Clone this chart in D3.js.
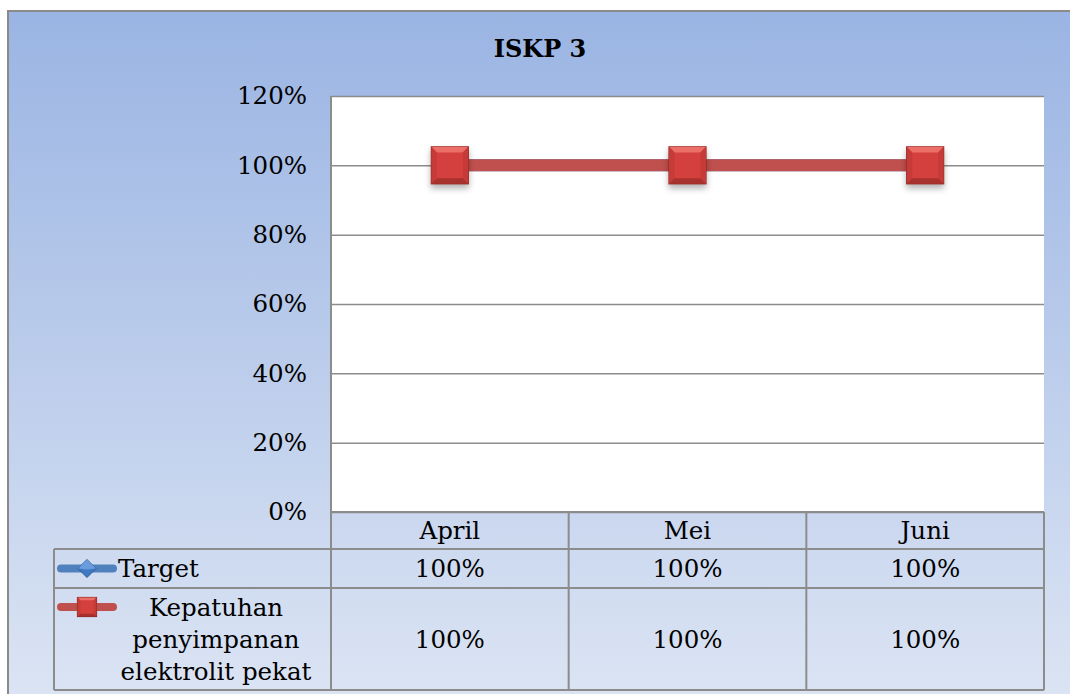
<!DOCTYPE html>
<html>
<head>
<meta charset="utf-8">
<script src="https://cdn.jsdelivr.net/npm/d3@7"></script>
<style>
  html, body { margin: 0; padding: 0; background: #ffffff; }
  svg { display: block; }
  text { font-family: "DejaVu Serif", "Liberation Serif", serif; fill: #000; }
</style>
</head>
<body>
<div id="chart"></div>
<script>
// Chart data
const months = ["April", "Mei", "Juni"];
const targetValues = [1, 1, 1];
const complianceValues = [1, 1, 1];
const yTicks = [0, 0.2, 0.4, 0.6, 0.8, 1.0, 1.2];
const seriesNames = ["Target", "Kepatuhan penyimpanan elektrolit pekat"];
const seriesLabelLines = [["Target"], ["Kepatuhan", "penyimpanan", "elektrolit pekat"]];

const width = 1070, height = 694;
const plot = { left: 331, right: 1044, top: 96, bottom: 512 };
const table = { left: 54, rows: [512, 549, 588, 690] };
const gridColor = "#8c8c8c";
const fontSize = "24.5px";

const svg = d3.select("#chart").append("svg")
  .attr("width", width)
  .attr("height", height);

const defs = svg.append("defs");
const bg = defs.append("linearGradient").attr("id", "bgGrad")
  .attr("x1", 0).attr("y1", 0).attr("x2", 0).attr("y2", 1);
bg.append("stop").attr("offset", "0%").attr("stop-color", "#9ab4e3");
bg.append("stop").attr("offset", "100%").attr("stop-color", "#dee6f4");

const shadow = defs.append("filter").attr("id", "shadow")
  .attr("x", "-50%").attr("y", "-50%").attr("width", "200%").attr("height", "200%");
shadow.append("feDropShadow").attr("dx", 0).attr("dy", 4).attr("stdDeviation", 3)
  .attr("flood-color", "#000").attr("flood-opacity", 0.3);

// Outer chart area
svg.append("rect")
  .attr("x", 8).attr("y", 11)
  .attr("width", width + 20).attr("height", height + 20)
  .attr("fill", "url(#bgGrad)")
  .attr("stroke", "#8a8a8a").attr("stroke-width", 2);

// Title
svg.append("text")
  .attr("x", 540).attr("y", 48)
  .attr("text-anchor", "middle").attr("dominant-baseline", "central")
  .style("font-size", "24px").style("font-weight", "bold")
  .text("ISKP 3");

// Scales
const x = d3.scaleBand().domain(months).range([plot.left, plot.right]);
const y = d3.scaleLinear().domain([0, 1.2]).range([plot.bottom, plot.top]);

// Plot area
svg.append("rect")
  .attr("x", plot.left).attr("y", plot.top)
  .attr("width", plot.right - plot.left).attr("height", plot.bottom - plot.top)
  .attr("fill", "#ffffff");

// Gridlines
const yGrid = d3.axisLeft(y).tickValues(yTicks).tickSize(-(plot.right - plot.left)).tickFormat("");
const gridG = svg.append("g").attr("transform", `translate(${plot.left},0)`).call(yGrid);
gridG.select(".domain").remove();
gridG.selectAll(".tick line").attr("stroke", gridColor).attr("stroke-width", 1.5);

// Y axis labels
const yAxis = d3.axisLeft(y).tickValues(yTicks).tickSize(0).tickPadding(24).tickFormat(d3.format(".0%"));
const yAxisG = svg.append("g").attr("transform", `translate(${plot.left},0)`).call(yAxis);
yAxisG.select(".domain").remove();
yAxisG.selectAll(".tick text")
  .style("font-size", fontSize)
  .style("font-family", "'DejaVu Serif', serif")
  .attr("fill", "#000");

// Table lines
const tg = svg.append("g").attr("stroke", gridColor).attr("stroke-width", 2);
tg.append("line").attr("x1", plot.left).attr("x2", plot.right).attr("y1", table.rows[0]).attr("y2", table.rows[0]);
table.rows.slice(1).forEach(r => {
  tg.append("line").attr("x1", table.left).attr("x2", plot.right).attr("y1", r).attr("y2", r);
});
tg.append("line").attr("x1", table.left).attr("x2", table.left).attr("y1", table.rows[1]).attr("y2", table.rows[3]);
tg.append("line").attr("x1", plot.left).attr("x2", plot.left).attr("y1", plot.top).attr("y2", table.rows[3]);
months.forEach(m => {
  const xr = x(m) + x.bandwidth();
  tg.append("line").attr("x1", xr).attr("x2", xr)
    .attr("y1", table.rows[0]).attr("y2", table.rows[3]);
});

// Category header
svg.append("g").selectAll("text").data(months).join("text")
  .attr("x", d => x(d) + x.bandwidth() / 2)
  .attr("y", (table.rows[0] + table.rows[1]) / 2)
  .attr("text-anchor", "middle").attr("dominant-baseline", "central")
  .style("font-size", fontSize)
  .text(d => d);

// Data table values
const seriesValues = [targetValues, complianceValues];
seriesValues.forEach((vals, i) => {
  const cy = (table.rows[i + 1] + table.rows[i + 2]) / 2;
  svg.append("g").selectAll("text").data(vals).join("text")
    .attr("x", (d, j) => x(months[j]) + x.bandwidth() / 2)
    .attr("y", cy)
    .attr("text-anchor", "middle").attr("dominant-baseline", "central")
    .style("font-size", fontSize)
    .text(d => d3.format(".0%")(d));
});

// Marker helpers
function bevelSquare(g, cx, cy, s, fill) {
  const h = s / 2, b = s * 0.15;
  const m = g.append("g").attr("transform", `translate(${cx},${cy})`);
  m.append("rect").attr("x", -h).attr("y", -h).attr("width", s).attr("height", s)
    .attr("fill", fill.base).attr("stroke", fill.edge).attr("stroke-width", 1.2);
  m.append("polygon").attr("points", `${-h},${-h} ${h},${-h} ${h - b},${-h + b} ${-h + b},${-h + b}`).attr("fill", fill.top);
  m.append("polygon").attr("points", `${-h},${-h} ${-h + b},${-h + b} ${-h + b},${h - b} ${-h},${h}`).attr("fill", fill.side);
  m.append("polygon").attr("points", `${h},${-h} ${h},${h} ${h - b},${h - b} ${h - b},${-h + b}`).attr("fill", fill.side);
  m.append("polygon").attr("points", `${-h},${h} ${h},${h} ${h - b},${h - b} ${-h + b},${h - b}`).attr("fill", fill.bottom);
  return m;
}
const redMarker = { base: "#d4403c", top: "#ec6e69", side: "#c63b37", bottom: "#a8312e", edge: "#8a2a28" };

function diamond(g, cx, cy, s) {
  const h = s / 2;
  const m = g.append("g").attr("transform", `translate(${cx},${cy})`);
  m.append("polygon").attr("points", `0,${-h} ${h},0 0,${h} ${-h},0`)
    .attr("fill", "#3f79c4").attr("stroke", "#2d5a96").attr("stroke-width", 1);
  m.append("polygon").attr("points", `0,${-h} ${h},0 0,${h * 0.1} ${-h},0`).attr("fill", "#6a9bdc");
}

// Series lines
const line = d3.line().x((d, i) => x(months[i]) + x.bandwidth() / 2).y(d => y(d));
svg.append("path").datum(targetValues).attr("d", line)
  .attr("fill", "none").attr("stroke", "#4f81bd").attr("stroke-width", 12);
svg.append("path").datum(complianceValues).attr("d", line)
  .attr("fill", "none").attr("stroke", "#c0504d").attr("stroke-width", 12);

const markerG = svg.append("g").attr("filter", "url(#shadow)");
complianceValues.forEach((v, i) => {
  bevelSquare(markerG, x(months[i]) + x.bandwidth() / 2, y(v), 37, redMarker);
});

// Legend keys inside the table
const keyX0 = 57, keyX1 = 117, keyMid = 87;
const keyTarget = (table.rows[1] + table.rows[2]) / 2;
const keyComp = 607;
svg.append("line").attr("x1", keyX0 + 4).attr("x2", keyX1 - 4).attr("y1", keyTarget).attr("y2", keyTarget)
  .attr("stroke", "#4f81bd").attr("stroke-width", 8).attr("stroke-linecap", "round");
diamond(svg, keyMid, keyTarget, 18);
svg.append("line").attr("x1", keyX0 + 4).attr("x2", keyX1 - 4).attr("y1", keyComp).attr("y2", keyComp)
  .attr("stroke", "#c0504d").attr("stroke-width", 8).attr("stroke-linecap", "round");
bevelSquare(svg, keyMid, keyComp, 19, redMarker);

// Series names
svg.append("text")
  .attr("x", 118).attr("y", keyTarget)
  .attr("dominant-baseline", "central")
  .style("font-size", fontSize)
  .text(seriesLabelLines[0][0]);

const compText = svg.append("text")
  .attr("x", 216).attr("text-anchor", "middle")
  .style("font-size", fontSize);
seriesLabelLines[1].forEach((l, i) => {
  compText.append("tspan").attr("x", 216).attr("y", 616 + i * 32).text(l);
});
</script>
</body>
</html>
